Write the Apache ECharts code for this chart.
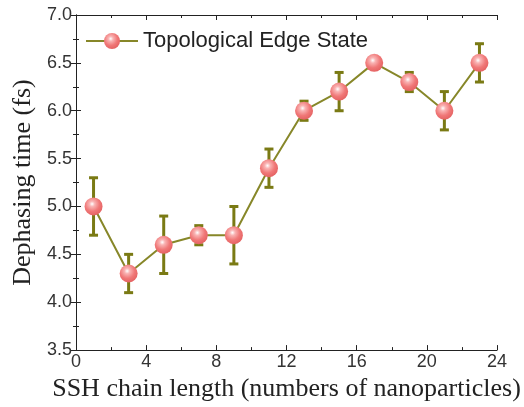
<!DOCTYPE html>
<html>
<head>
<meta charset="utf-8">
<script src="https://cdn.jsdelivr.net/npm/echarts@6/dist/echarts.min.js"></script>
<style>
  html, body { margin: 0; padding: 0; background: #fff; }
  #chart { width: 524px; height: 407px; }
</style>
</head>
<body>
<div id="chart"></div>
<script>
// chain lengths and measured dephasing times
const chainLength = [1, 3, 5, 7, 9, 11, 13, 15, 17, 19, 21, 23];
const dephasing   = [5.0, 4.3, 4.6, 4.7, 4.7, 5.4, 6.0, 6.2, 6.5, 6.3, 6.0, 6.5];
const errLow      = [4.7, 4.1, 4.3, 4.6, 4.4, 5.2, 5.9, 6.0, 6.5, 6.2, 5.8, 6.3];
const errHigh     = [5.3, 4.5, 4.9, 4.8, 5.0, 5.6, 6.1, 6.4, 6.5, 6.4, 6.2, 6.7];

const seriesName = 'Topological Edge State';
const olive = '#878729';
const barColor = '#7a7a14';

const pointData = chainLength.map((x, i) => [x, dephasing[i]]);
const errData = chainLength.map((x, i) => [x, errLow[i], errHigh[i]]);

const ball = {
  type: 'radial', x: 0.42, y: 0.36, r: 0.68,
  colorStops: [
    { offset: 0, color: '#ffffff' },
    { offset: 0.22, color: '#f9b3b3' },
    { offset: 0.6, color: '#f07878' },
    { offset: 1, color: '#e35f5f' }
  ]
};

const tickStyle = { color: '#222', width: 1 };
const labelFont = { fontFamily: 'Liberation Sans, Arial', fontSize: 18, color: '#333' };
const nameFont = { fontFamily: 'Liberation Serif, Times New Roman', fontSize: 26, color: '#222' };

const myChart = echarts.init(document.getElementById('chart'));
myChart.setOption({
  animation: false,
  grid: { left: 76, right: 27, top: 15, bottom: 53 },
  legend: {
    data: [seriesName],
    left: 80, top: 25,
    itemWidth: 52, itemHeight: 20, itemGap: 6,
    textStyle: { fontFamily: 'Liberation Sans, Arial', fontSize: 22, color: '#222' }
  },
  xAxis: [{
    type: 'value', min: 0, max: 24, interval: 4,
    name: 'SSH chain length (numbers of nanoparticles)',
    nameLocation: 'middle', nameGap: 25, nameTextStyle: nameFont,
    axisLine: { lineStyle: { color: '#222', width: 1 } },
    axisTick: { inside: true, length: 5, lineStyle: tickStyle },
    minorTick: { show: true, splitNumber: 2, length: 3, lineStyle: tickStyle },
    splitLine: { show: false },
    axisLabel: Object.assign({ margin: 3 }, labelFont)
  }, {
    type: 'value', min: 0, max: 24, interval: 4, position: 'top',
    axisLine: { lineStyle: { color: '#222', width: 1 } },
    axisTick: { inside: true, length: 5, lineStyle: tickStyle },
    minorTick: { show: true, splitNumber: 2, length: 3, lineStyle: tickStyle },
    splitLine: { show: false },
    axisLabel: { show: false }
  }],
  yAxis: [{
    type: 'value', min: 3.5, max: 7.0, interval: 0.5,
    name: 'Dephasing time (fs)',
    nameLocation: 'middle', nameGap: 39, nameTextStyle: nameFont,
    axisLine: { show: true, lineStyle: { color: '#222', width: 1 } },
    axisTick: { show: true, inside: true, length: 5, lineStyle: tickStyle },
    minorTick: { show: true, splitNumber: 2, length: 3, lineStyle: tickStyle },
    splitLine: { show: false },
    axisLabel: Object.assign({ margin: 4, formatter: v => v.toFixed(1) }, labelFont)
  }, {
    type: 'value', min: 3.5, max: 7.0, interval: 0.5, position: 'right',
    axisLine: { show: true, lineStyle: { color: '#222', width: 1 } },
    axisTick: { show: true, inside: true, length: 5, lineStyle: tickStyle },
    minorTick: { show: true, splitNumber: 2, length: 3, lineStyle: tickStyle },
    splitLine: { show: false },
    axisLabel: { show: false }
  }],
  series: [{
    type: 'custom',
    name: 'err',
    z: 2,
    data: errData,
    renderItem: (params, api) => {
      const lo = api.value(1), hi = api.value(2);
      if (hi - lo < 1e-9) return null;
      const a = api.coord([api.value(0), lo]);
      const b = api.coord([api.value(0), hi]);
      const w = 4.5;
      const style = { stroke: barColor, lineWidth: 3 };
      return {
        type: 'group',
        children: [
          { type: 'line', shape: { x1: a[0], y1: a[1], x2: b[0], y2: b[1] }, style },
          { type: 'line', shape: { x1: a[0] - w, y1: a[1], x2: a[0] + w, y2: a[1] }, style },
          { type: 'line', shape: { x1: b[0] - w, y1: b[1], x2: b[0] + w, y2: b[1] }, style }
        ]
      };
    }
  }, {
    type: 'line',
    name: seriesName,
    z: 3,
    data: pointData,
    symbol: 'circle',
    symbolSize: 18,
    lineStyle: { color: olive, width: 2 },
    itemStyle: { color: ball, borderWidth: 0 }
  }]
});
</script>
</body>
</html>
